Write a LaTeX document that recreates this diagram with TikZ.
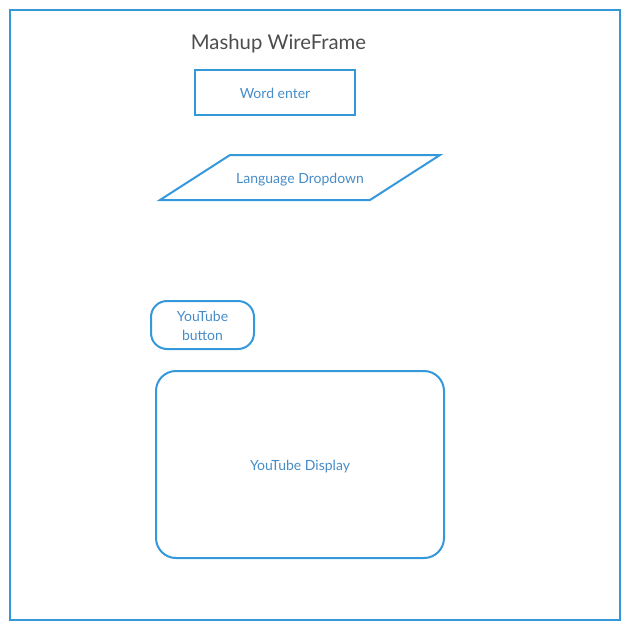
\documentclass[tikz,border=0pt]{standalone}
\usepackage{fontspec}
\setmainfont{Lato}
\usetikzlibrary{shapes.geometric}
\definecolor{stroke}{RGB}{52,152,219}
\definecolor{labeltxt}{RGB}{70,140,200}
\definecolor{titletxt}{RGB}{77,77,77}
\begin{document}
\begin{tikzpicture}[x=1pt,y=-1pt,
  shapeline/.style={draw=stroke,line width=2pt},
  lbl/.style={text=labeltxt,font=\fontsize{14}{19}\selectfont,align=center}]
\useasboundingbox (0,0) rectangle (630,630);
\draw[shapeline] (10,10) rectangle (620,620);
\node[text=titletxt,font=\fontsize{20.3}{24}\selectfont] (title) at (278.5,44) {Mashup WireFrame};
\draw[shapeline] (195,70) rectangle (355,115);
\node[lbl] (word) at (275,93.5) {Word enter};
\draw[shapeline] (230,155) -- (440,155) -- (370,200) -- (160,200) -- cycle;
\node[lbl] (lang) at (300,179.5) {Language Dropdown};
\draw[shapeline,rounded corners=16pt] (151,301) rectangle (254,349);
\node[lbl] (btn) at (202.5,326) {YouTube\\button};
\draw[shapeline,rounded corners=20pt] (156,371) rectangle (444,558);
\node[lbl] (disp) at (300,466.5) {YouTube Display};
\end{tikzpicture}
\end{document}
